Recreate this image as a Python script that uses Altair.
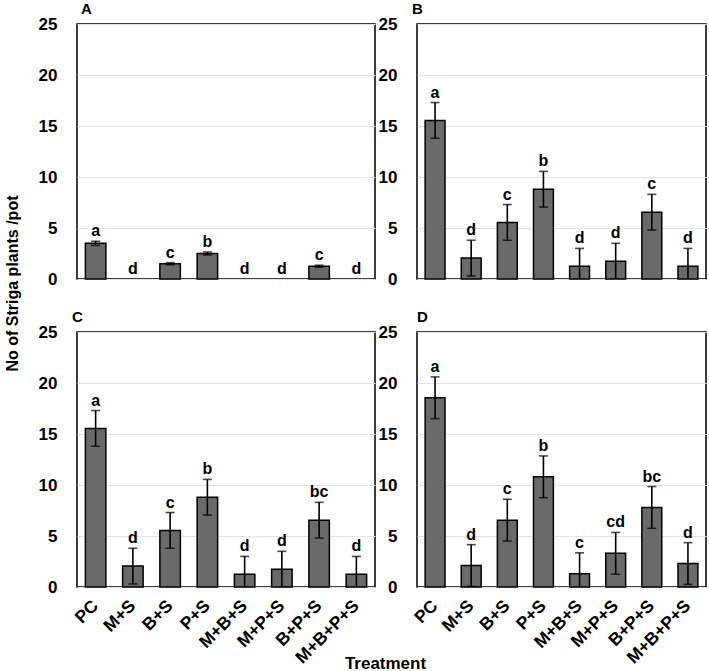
import altair as alt
import pandas as pd

FONT = "Liberation Sans"

treatments = ["PC", "M+S", "B+S", "P+S", "M+B+S", "M+P+S", "B+P+S", "M+B+P+S"]

a_means = [3.5, 0, 1.5, 2.5, 0, 0, 1.25, 0]
a_errors = [0.2, 0, 0.1, 0.15, 0, 0, 0.1, 0]
a_letters = ["a", "d", "c", "b", "d", "d", "c", "d"]

b_means = [15.55, 2.05, 5.55, 8.8, 1.25, 1.75, 6.55, 1.25]
b_errors = [1.75, 1.75, 1.75, 1.75, 1.75, 1.75, 1.75, 1.75]
b_letters = ["a", "d", "c", "b", "d", "d", "c", "d"]

c_means = [15.55, 2.05, 5.55, 8.8, 1.25, 1.75, 6.55, 1.25]
c_errors = [1.75, 1.75, 1.75, 1.75, 1.75, 1.75, 1.75, 1.75]
c_letters = ["a", "d", "c", "b", "d", "d", "bc", "d"]

d_means = [18.55, 2.1, 6.55, 10.8, 1.3, 3.3, 7.8, 2.3]
d_errors = [2.05, 2.05, 2.05, 2.05, 2.05, 2.05, 2.05, 2.05]
d_letters = ["a", "d", "c", "b", "c", "cd", "bc", "d"]

y_ticks = [0, 5, 10, 15, 20, 25]


def panel(name, means, errors, letters, width, title_dx,
          show_x_labels=False, y_title=None, x_title=None):
    df = pd.DataFrame({
        "treatment": treatments,
        "mean": means,
        "err": errors,
        "letter": letters,
    })
    df["lo"] = df["mean"] - df["err"]
    df["hi"] = df["mean"] + df["err"]

    x_scale = alt.Scale(paddingInner=0.45, paddingOuter=0.225)
    y_scale = alt.Scale(domain=[0, 25], nice=False)

    x_axis_kw = dict(
        labelAngle=-45, labelFontSize=17.5, labelFontWeight="bold",
        labelFont=FONT, labelColor="black", ticks=False, domain=False,
        labelPadding=16, labelAlign="right", labelBaseline="middle",
        labels=show_x_labels, grid=False,
    )
    if x_title:
        x_axis_kw.update(title=x_title, titleFontSize=17, titleFontWeight="bold",
                         titleFont=FONT, titleColor="black", titleX=308, titleY=68,
                         titleAlign="center", titleBaseline="top")
    else:
        x_axis_kw.update(title=None)

    y_axis_kw = dict(
        values=y_ticks, labelFontSize=17, labelFontWeight="bold", labelFont=FONT,
        labelColor="black", ticks=False, domain=False, labelPadding=20,
        grid=True, gridColor="#e3e3e3", gridWidth=1.2,
    )
    if y_title:
        y_axis_kw.update(title=y_title, titleFontSize=16, titleFontWeight="bold",
                         titleFont=FONT, titleColor="black", titleX=-57, titleY=259,
                         titleAlign="center", titleAngle=270)
    else:
        y_axis_kw.update(title=None)

    x_axis = alt.Axis(**x_axis_kw)
    y_axis = alt.Axis(**y_axis_kw)

    def xe():
        return alt.X("treatment:N", sort=treatments, scale=x_scale, axis=x_axis)

    def ye(field):
        return alt.Y(field, scale=y_scale, axis=y_axis)

    base = alt.Chart(df)

    bars = base.transform_filter("datum.mean > 0").mark_bar(
        color="#6a6a6a", stroke="black", strokeWidth=1.5
    ).encode(x=xe(), y=ye("mean:Q"))

    err_src = base.transform_filter("datum.err > 0")
    whisker = err_src.mark_rule(color="black", strokeWidth=1.6, clip=True).encode(
        x=xe(), y=ye("lo:Q"), y2="hi:Q",
    )
    cap_hi = err_src.mark_tick(color="black", thickness=1.6, size=9, clip=True).encode(
        x=xe(), y=ye("hi:Q")
    )
    cap_lo = err_src.mark_tick(color="black", thickness=1.6, size=9, clip=True).encode(
        x=xe(), y=ye("lo:Q")
    )
    labels = base.mark_text(
        font=FONT, fontSize=16, fontWeight="bold", color="black",
        baseline="alphabetic", dy=-5,
    ).encode(x=xe(), y=ye("hi:Q"), text="letter:N")

    return alt.layer(bars, whisker, cap_hi, cap_lo, labels).properties(
        width=width,
        height=255,
        title=alt.TitleParams(
            text=name, anchor="start", fontSize=15, fontWeight="bold",
            font=FONT, color="black", dx=title_dx, dy=2, offset=0, frame="group",
        ),
    )


pa = panel("A", a_means, a_errors, a_letters, 298, 4,
           y_title="No of Striga plants /pot")
pb = panel("B", b_means, b_errors, b_letters, 289, -5)
pc = panel("C", c_means, c_errors, c_letters, 298, -5, show_x_labels=True,
           x_title="Treatment")
pd_ = panel("D", d_means, d_errors, d_letters, 289, 0, show_x_labels=True)

chart = alt.concat(
    pa, pb, pc, pd_, columns=2,
    spacing=alt.RowColnumber(row=53, column=42),
    bounds="flush",
).properties(
    padding={"left": 3, "top": 1, "right": 0, "bottom": 0},
).configure(
    font=FONT,
).configure_view(
    stroke="black", strokeWidth=1.5,
)

chart.save("out.html", embed_options={"renderer": "svg", "actions": False})
